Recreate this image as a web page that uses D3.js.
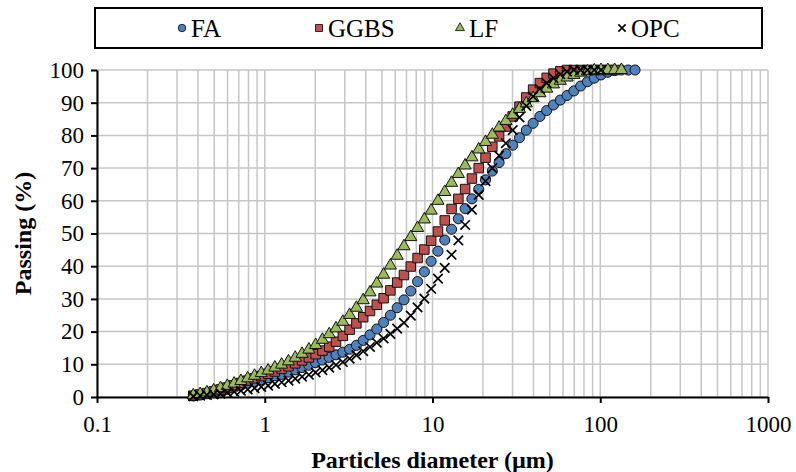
<!DOCTYPE html>
<html>
<head>
<meta charset="utf-8">
<script src="https://cdn.jsdelivr.net/npm/d3@7"></script>
<style>
  body { margin: 0; background: #fff; }
  text { font-family: "Liberation Serif", "Times New Roman", serif; fill: #000; }
</style>
</head>
<body>
<div id="chart"></div>
<script>
// particle size channels (um)
var diameters = [0.375, 0.412, 0.452, 0.496, 0.545, 0.598, 0.657, 0.721, 0.791, 0.869,
                 0.953, 1.047, 1.149, 1.261, 1.385, 1.520, 1.669, 1.832, 2.010, 2.207,
                 2.423, 2.660, 2.920, 3.205, 3.519, 3.863, 4.240, 4.655, 5.110, 5.610,
                 6.158, 6.760, 7.421, 8.147, 8.943, 9.818, 10.78, 11.83, 12.99, 14.26,
                 15.65, 17.18, 18.86, 20.71, 22.73, 24.95, 27.39, 30.07, 33.01, 36.24,
                 39.78, 43.67, 47.94, 52.62, 57.77, 63.41, 69.61, 76.42, 83.89, 92.09,
                 101.1, 111.0, 121.8, 133.7, 146.8, 161.2];

// cumulative passing (%)
var fa = [0.3, 0.6, 1.0, 1.4, 1.9, 2.4, 2.9, 3.5, 4.1, 4.7,
          5.3, 5.9, 6.5, 6.9, 7.6, 8.3, 9.0, 9.7, 10.5, 11.3,
          12.1, 12.9, 13.7, 14.6, 15.8, 17.3, 19.0, 20.8, 22.8, 25.0,
          27.3, 29.7, 32.4, 35.3, 38.3, 41.5, 44.6, 48.0, 51.3, 54.5,
          57.6, 60.6, 63.5, 66.4, 69.1, 71.7, 74.4, 77.0, 79.3, 81.6,
          83.7, 85.8, 87.6, 89.3, 90.8, 92.2, 93.6, 95.1, 96.4, 97.5,
          98.5, 99.3, 99.8, 100, 100, 100];
var ggbs = [0.4, 0.8, 1.2, 1.7, 2.3, 2.9, 3.6, 4.3, 5.0, 5.7,
            6.4, 7.1, 7.8, 8.6, 9.4, 10.3, 11.2, 12.1, 13.1, 14.2,
            15.4, 16.9, 18.7, 20.6, 22.5, 24.4, 26.3, 28.2, 30.2, 32.6,
            35.0, 37.3, 39.9, 42.5, 45.1, 47.8, 50.6, 54.0, 57.5, 60.6,
            63.6, 66.8, 70.0, 73.2, 76.5, 79.7, 82.7, 85.8, 88.8, 91.6,
            94.0, 96.0, 97.6, 98.9, 99.6, 100, 100, 100, 100, 100,
            100, 100, 100];
var lf = [0.5, 0.9, 1.4, 2.0, 2.7, 3.4, 4.1, 4.9, 5.7, 6.5,
          7.3, 8.1, 9.0, 9.9, 10.9, 12.0, 13.2, 14.5, 15.9, 17.5,
          19.2, 21.0, 23.0, 25.1, 27.3, 29.6, 32.0, 34.7, 37.4, 40.2,
          43.2, 46.1, 48.9, 51.7, 54.3, 57.0, 60.0, 62.7, 65.5, 68.2,
          70.8, 73.3, 75.7, 78.0, 80.2, 82.4, 84.4, 86.3, 88.1, 89.8,
          91.4, 92.9, 94.3, 95.6, 96.7, 97.7, 98.5, 99.2, 99.6, 99.9,
          100, 100, 100, 100];
var opc = [0.2, 0.4, 0.6, 0.8, 1.0, 1.3, 1.6, 1.9, 2.3, 2.7,
           3.1, 3.5, 4.0, 4.5, 5.0, 5.6, 6.2, 6.8, 7.5, 8.2,
           9.0, 9.8, 10.7, 11.7, 12.8, 14.0, 15.3, 16.6, 17.9, 19.3,
           20.9, 22.7, 24.9, 27.4, 30.1, 33.1, 36.2, 39.5, 43.5, 47.9,
           52.6, 57.3, 61.8, 66.0, 70.0, 73.8, 77.6, 81.6, 85.5, 89.0,
           91.9, 94.2, 96.0, 97.5, 98.7, 99.5, 100, 100, 100, 100,
           100];

var seriesNames = ["FA", "GGBS", "LF", "OPC"];
var xTicks = [0.1, 1, 10, 100, 1000];
var yTicks = [0, 10, 20, 30, 40, 50, 60, 70, 80, 90, 100];

const width = 796, height = 472;
const margin = {top: 70, right: 28, bottom: 75, left: 97};

document.addEventListener('DOMContentLoaded', function () {
    var svg = d3.select("#chart").append("svg")
        .attr("width", width)
        .attr("height", height);

    var xScale = d3.scaleLog().domain([0.1, 1000]).range([margin.left, width - margin.right]);
    var yScale = d3.scaleLinear().domain([0, 100]).range([height - margin.bottom, margin.top]);

    // gridlines
    svg.append("g").selectAll("line")
        .data(xScale.ticks())
        .join("line")
            .attr("x1", d => xScale(d)).attr("x2", d => xScale(d))
            .attr("y1", yScale(0)).attr("y2", yScale(100))
            .attr("stroke", "#c6c6c6")
            .attr("stroke-width", 1.5);
    svg.append("g").selectAll("line")
        .data(yTicks)
        .join("line")
            .attr("x1", xScale(0.1)).attr("x2", xScale(1000))
            .attr("y1", d => yScale(d)).attr("y2", d => yScale(d))
            .attr("stroke", "#c6c6c6")
            .attr("stroke-width", 1.5);

    // axes
    var xAxis = svg.append("g")
        .attr("transform", "translate(0," + yScale(0) + ")")
        .call(d3.axisBottom(xScale).tickValues(xTicks).tickFormat(d => String(d)).tickSize(6).tickSizeOuter(0));
    var yAxis = svg.append("g")
        .attr("transform", "translate(" + xScale(0.1) + ",0)")
        .call(d3.axisLeft(yScale).tickValues(yTicks).tickSize(6).tickSizeOuter(0));
    [xAxis, yAxis].forEach(function (ax) {
        ax.select(".domain").attr("stroke", "#000").attr("stroke-width", 2);
        ax.selectAll(".tick line").attr("stroke", "#000").attr("stroke-width", 2);
        ax.selectAll(".tick text")
            .attr("font-family", "Liberation Serif")
            .attr("font-size", 23)
            .attr("fill", "#000");
    });
    xAxis.selectAll(".tick text").attr("y", 14).attr("dy", "0.9em");
    yAxis.selectAll(".tick text").attr("x", -13);

    svg.append("text")
        .attr("x", (xScale(0.1) + xScale(1000)) / 2)
        .attr("y", 468)
        .attr("text-anchor", "middle")
        .attr("font-weight", "bold")
        .attr("font-size", 24)
        .text("Particles diameter (µm)");
    svg.append("text")
        .attr("transform", "translate(31," + yScale(50) + ") rotate(-90)")
        .attr("text-anchor", "middle")
        .attr("font-weight", "bold")
        .attr("font-size", 24)
        .text("Passing (%)");

    // markers
    var symbols = {
        "FA":   {data: fa,   type: d3.symbolCircle,   size: 80, fill: "#4f81bd"},
        "GGBS": {data: ggbs, type: d3.symbolSquare,   size: 90, fill: "#c0504d"},
        "LF":   {data: lf,   type: d3.symbolTriangle, size: 64, fill: "#9bbb59"},
        "OPC":  {data: opc,  type: d3.symbolX,        size: 60, fill: "none"}
    };

    seriesNames.forEach(function (name) {
        var s = symbols[name];
        var pts = s.data.map((v, i) => ({d: diameters[i], p: v}));
        svg.append("g").attr("class", "series_" + name)
            .selectAll("path")
            .data(pts)
            .join("path")
                .attr("d", d3.symbol().type(s.type).size(s.size))
                .attr("transform", d => "translate(" + xScale(d.d) + "," + yScale(d.p) + ")")
                .attr("fill", s.fill)
                .attr("stroke", name == "OPC" ? "#000" : "#111")
                .attr("stroke-width", name == "OPC" ? 1.7 : 1);
    });

    // legend
    var legend = svg.append("g").attr("class", "legend");
    legend.append("rect")
        .attr("x", 95).attr("y", 8)
        .attr("width", 667).attr("height", 40)
        .attr("fill", "#fff")
        .attr("stroke", "#000")
        .attr("stroke-width", 2);
    var legendX = [182, 319, 460, 622];
    seriesNames.forEach(function (name, i) {
        var s = symbols[name];
        var item = legend.append("g").attr("transform", "translate(" + legendX[i] + ",28)");
        item.append("path")
            .attr("d", d3.symbol().type(s.type).size(name == "OPC" ? 36 : s.size * 0.55))
            .attr("fill", s.fill)
            .attr("stroke", "#000")
            .attr("stroke-width", name == "OPC" ? 1.7 : 0.8);
        item.append("text")
            .attr("x", 9)
            .attr("y", 8.5)
            .attr("font-size", 25)
            .text(name);
    });
});
</script>
</body>
</html>
